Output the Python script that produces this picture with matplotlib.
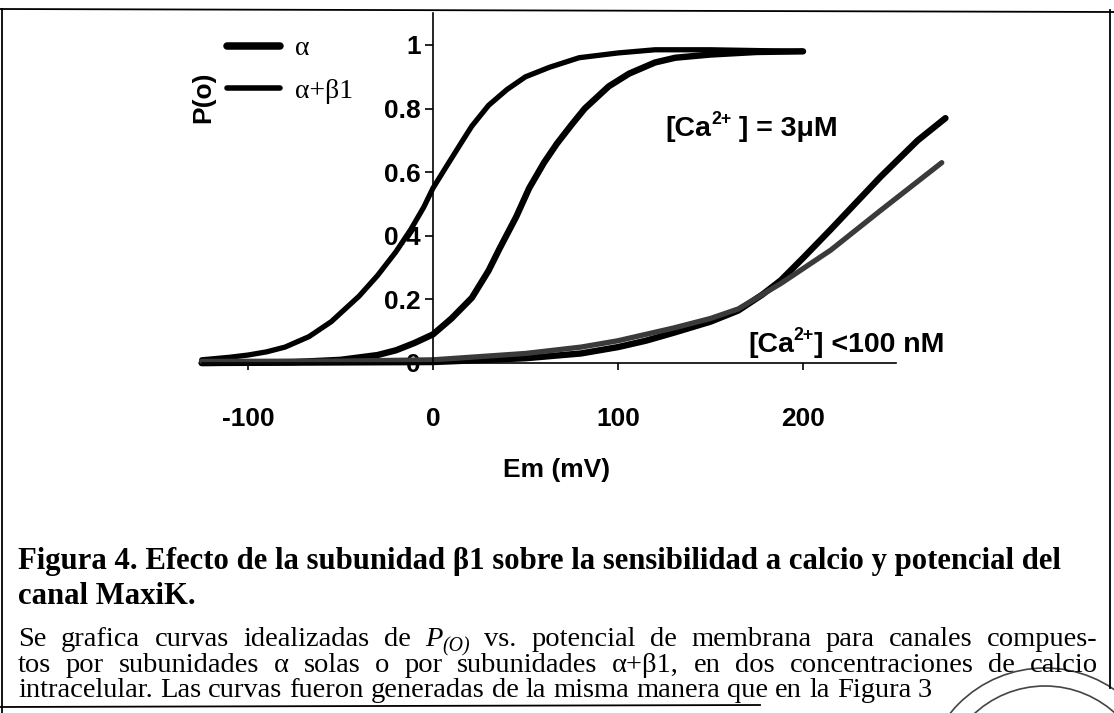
import matplotlib
matplotlib.use('Agg')
import matplotlib.pyplot as plt
from matplotlib.lines import Line2D
from matplotlib.patches import Circle
from matplotlib.transforms import IdentityTransform

# Idealized P(o) vs membrane potential curves
# [Ca2+] = 3 uM
v_ab_hi = [-125, -110, -100, -90, -80, -67, -55, -40, -30, -20, -12, -5, 0, 8, 15, 21, 30, 40, 50, 63, 79, 100, 120, 150, 200]
p_ab_hi = [0.01, 0.018, 0.025, 0.035, 0.05, 0.083, 0.13, 0.21, 0.275, 0.35, 0.42, 0.49, 0.55, 0.625, 0.69, 0.745, 0.81, 0.86, 0.9, 0.93, 0.96, 0.975, 0.985, 0.985, 0.98]

v_a_hi = [-125, -75, -50, -30, -20, -10, 0, 10, 21, 30, 36, 45, 52, 60, 67, 75, 82, 95, 106, 120, 131, 150, 175, 200]
p_a_hi = [0.0, 0.003, 0.01, 0.025, 0.04, 0.063, 0.09, 0.14, 0.205, 0.29, 0.36, 0.46, 0.55, 0.63, 0.69, 0.75, 0.80, 0.87, 0.91, 0.945, 0.96, 0.97, 0.978, 0.98]

# [Ca2+] < 100 nM
v_ab_lo = [-125, -50, 0, 50, 80, 100, 115, 130, 150, 165, 188, 215, 242, 275]
p_ab_lo = [0.005, 0.006, 0.01, 0.03, 0.05, 0.07, 0.09, 0.11, 0.14, 0.17, 0.25, 0.355, 0.48, 0.63]

v_a_lo = [-125, 0, 50, 80, 100, 115, 130, 150, 165, 178, 188, 200, 215, 242, 262, 277]
p_a_lo = [0.0, 0.003, 0.015, 0.03, 0.05, 0.07, 0.095, 0.13, 0.165, 0.215, 0.26, 0.33, 0.42, 0.586, 0.70, 0.77]

x_ticks = [-100, 0, 100, 200]
y_ticks = [0, 0.2, 0.4, 0.6, 0.8, 1]
y_tick_labels = ['0', '0.2', '0.4', '0.6', '0.8', '1']
legend_labels = ['\u03b1', '\u03b1+\u03b21']

caption_bold = ['Figura 4. Efecto de la subunidad \u03b21 sobre la sensibilidad a calcio y potencial del',
                'canal MaxiK.']
caption_text = ['Se grafica curvas idealizadas de P(O) vs. potencial de membrana para canales compues-',
                'tos por subunidades \u03b1 solas o por subunidades \u03b1+\u03b21, en dos concentraciones de calcio',
                'intracelular. Las curvas fueron generadas de la misma manera que en la Figura 3']

W, H = 1114, 713
plt.rcParams['font.family'] = ['Liberation Sans', 'DejaVu Sans']

fig = plt.figure(figsize=(W / 100, H / 100), dpi=100)
fig.patch.set_facecolor('white')
renderer = fig.canvas.get_renderer()


def fx(px):
    return px / W


def fy(py):
    return 1 - py / H


# axes placed so that 0 mV sits at x=433 px and P=0 at y=363 px
x_per_mv = 1.85
y_per_p = 318
x0_px, y0_px = 433, 363
xmin, xmax = -125, 280
ymax = 1.1
ax = fig.add_axes([fx(x0_px + xmin * x_per_mv), (H - y0_px) / H,
                   (xmax - xmin) * x_per_mv / W, ymax * y_per_p / H])
ax.set_xlim(xmin, xmax)
ax.set_ylim(0, ymax)
ax.patch.set_alpha(0)

lw_a, lw_ab = 4.6, 3.8
l_a, = ax.plot(v_a_hi, p_a_hi, color='black', lw=lw_a, clip_on=False, solid_capstyle='round')
l_ab, = ax.plot(v_ab_hi, p_ab_hi, color='black', lw=lw_ab, clip_on=False, solid_capstyle='round')
ax.plot(v_a_lo, p_a_lo, color='black', lw=lw_a, clip_on=False, solid_capstyle='round')
ax.plot(v_ab_lo, p_ab_lo, color='#3a3a3a', lw=lw_ab, clip_on=False, solid_capstyle='round')

for s in ['top', 'right']:
    ax.spines[s].set_visible(False)
ax.spines['left'].set_position(('data', 0))
ax.spines['left'].set_bounds(0, ymax)
ax.spines['bottom'].set_bounds(xmin, 250)
ax.spines['left'].set_linewidth(1.2)
ax.spines['bottom'].set_linewidth(1.2)

ax.set_xticks(x_ticks)
ax.set_xticklabels([str(v) for v in x_ticks])
ax.set_yticks(y_ticks)
ax.set_yticklabels(y_tick_labels)
ax.tick_params(axis='x', direction='out', length=5, width=1.2, pad=27, labelsize=19)
ax.tick_params(axis='y', direction='out', length=6, width=1.2, pad=3, labelsize=19)
for lab in ax.get_xticklabels() + ax.get_yticklabels():
    lab.set_fontweight('bold')

leg = ax.legend([l_a, l_ab], legend_labels, loc='upper left',
                bbox_to_anchor=(fx(227), fy(36)), bbox_transform=fig.transFigure,
                frameon=False, prop={'family': 'Liberation Serif', 'size': 20},
                handlelength=1.9, handletextpad=0.55, labelspacing=0.62,
                borderpad=0, borderaxespad=0)
leg.get_lines()[0].set_linewidth(5.4)
leg.get_lines()[1].set_linewidth(4.0)

fig.text(fx(557), fy(470), 'Em (mV)', ha='center', va='center', fontsize=19, fontweight='bold')
fig.text(fx(203), fy(97), 'P(o)', ha='center', va='center', rotation=90, fontsize=19, fontweight='bold')


def run_text(px, py, pieces, **kw):
    # pieces: (text, size, rise_px, extra kwargs) drawn one after another on a baseline
    x = px
    for s, size, rise, extra in pieces:
        t = fig.text(fx(x), fy(py - rise), s, ha='left', va='baseline', fontsize=size, **kw, **extra)
        x += t.get_window_extent(renderer).width
    return x


ann = 20.5
run_text(665, 136, [('[Ca', ann, 0, {}), ('2+', ann * 0.62, 12, {}), (' ] = 3\u03bcM', ann, 0, {})],
         fontweight='bold')
run_text(748, 352, [('[Ca', ann, 0, {}), ('2+', ann * 0.62, 12, {}), ('] <100 nM', ann, 0, {})],
         fontweight='bold')


def fit_text(px, py, s, width_px, size, **kw):
    t = fig.text(fx(px), fy(py), s, ha='left', va='center', fontsize=size, **kw)
    w = t.get_window_extent(renderer).width
    if width_px:
        t.set_fontsize(size * width_px / w)
    return t


def justify(px, py, line, width_px, size, **kw):
    # spread the words of a line across width_px, like the justified caption
    words = []
    for w in line.split(' '):
        if w == 'P(O)':
            words.append([('P', size, 0, {'style': 'italic'}), ('(O)', size * 0.7, -5, {'style': 'italic'})])
        else:
            words.append([(w, size, 0, {})])
    arts = []
    widths = []
    for pieces in words:
        group = []
        total = 0
        for s, sz, rise, extra in pieces:
            t = fig.text(0, fy(py - rise), s, ha='left', va='baseline', fontsize=sz, **kw, **extra)
            w = t.get_window_extent(renderer).width
            group.append((t, total))
            total += w
        arts.append(group)
        widths.append(total)
    space = size * 0.25 * 100 / 72
    gap = (width_px - sum(widths)) / (len(words) - 1) if width_px else space
    x = px
    for group, w in zip(arts, widths):
        for t, off in group:
            t.set_x(fx(x + off))
        x += w + gap


t1 = fit_text(18, 561, caption_bold[0], 1044, 19, family='Liberation Serif', fontweight='bold')
fit_text(18, 597, caption_bold[1], None, t1.get_fontsize(), family='Liberation Serif', fontweight='bold')
cap = 20.5
justify(18, 646, caption_text[0], 1080, cap, family='Liberation Serif')
justify(18, 672, caption_text[1], 1080, cap, family='Liberation Serif')
justify(18, 697, caption_text[2], None, cap, family='Liberation Serif')

# scan frame and the edge of the stamp
ident = IdentityTransform()
frame = [((0, 9), (1114, 12)), ((2, 9), (2, 713)), ((1110, 10), (1110, 688)), ((0, 707), (760, 705))]
for (xa, ya), (xb, yb) in frame:
    fig.add_artist(Line2D([xa, xb], [H - ya, H - yb], transform=ident, color='black', lw=1.3))
for r in [122, 104]:
    fig.add_artist(Circle((1045, H - 790), r, transform=ident, fill=False, ec='#444444', lw=1.2))

fig.savefig('out.png', dpi=100, facecolor='white')
